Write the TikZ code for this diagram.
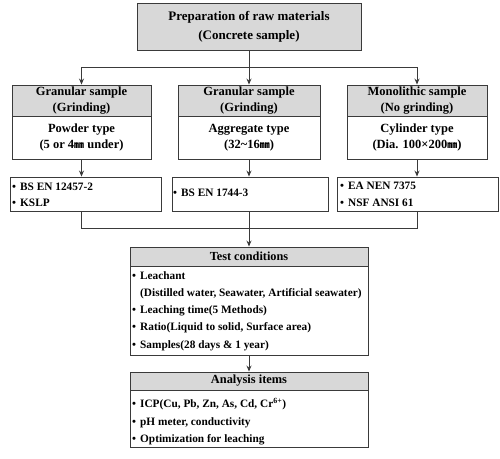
\documentclass[tikz,border=0pt]{standalone}
\usepackage{fontspec}
\setmainfont{Liberation Serif}
\newfontfamily\cjkfont{Noto Sans CJK KR}
\usetikzlibrary{arrows.meta}
\definecolor{edgecol}{HTML}{3A3A3A}
\definecolor{hdrgray}{HTML}{D8D8D8}
\newcommand{\mmu}{{\cjkfont\fontsize{10}{10}\selectfont ㎜}}
\newcommand{\bul}{\makebox[8pt][l]{\textbullet}}
\begin{document}
\begin{tikzpicture}[x=1pt,y=-1pt,
  box/.style={draw=edgecol, line width=0.9pt, rectangle, inner sep=0pt, fill=white},
  hdr/.style={box, fill=hdrgray},
  colfont/.style={font=\fontsize{12.5}{16.5}\selectfont\bfseries, align=center},
  txt/.style={anchor=west, inner sep=0pt, text height=8.5pt, text depth=2.5pt, font=\fontsize{11.3}{14}\selectfont\bfseries},
  ln/.style={draw=edgecol, line width=0.9pt},
  arr/.style={ln, -{Stealth[length=6pt,width=5pt]}}]
\useasboundingbox (0,0) rectangle (500,458);
% top box
\node[hdr, minimum width=224pt, minimum height=47pt, font=\fontsize{13}{19}\selectfont\bfseries, align=center] (prep) at (249,26.5) {Preparation of raw materials\\(Concrete sample)};
% column boxes
\node[hdr, colfont, minimum width=139pt, minimum height=31pt] (h1) at (81.5,100.5) {Granular sample\\(Grinding)};
\node[box, colfont, minimum width=139pt, minimum height=43pt] (w1) at (81.5,137.5) {Powder type\\(5 or 4\mmu{} under)};
\node[hdr, colfont, minimum width=142pt, minimum height=31pt] (h2) at (249,100.5) {Granular sample\\(Grinding)};
\node[box, colfont, minimum width=142pt, minimum height=43pt] (w2) at (249,137.5) {Aggregate type\\(32\textasciitilde16\mmu)};
\node[hdr, colfont, minimum width=140pt, minimum height=31pt] (h3) at (417,100.5) {Monolithic sample\\(No grinding)};
\node[box, colfont, minimum width=140pt, minimum height=43pt] (w3) at (417,137.5) {Cylinder type\\(Dia. 100×200\mmu)};
% standards boxes
\node[box, minimum width=151pt, minimum height=34pt] (b1) at (85.5,194) {};
\node[box, minimum width=156pt, minimum height=34pt] (b2) at (250,194) {};
\node[box, minimum width=161pt, minimum height=34pt] (b3) at (417.5,194) {};
\node[txt] (b1a) at (12,187) {\bul BS EN 12457-2};
\node[txt] (b1b) at (12,203) {\bul KSLP};
\node[txt] (b2a) at (173,193) {\bul BS EN 1744-3};
\node[txt] (b3a) at (340,186) {\bul EA NEN 7375};
\node[txt] (b3b) at (340,203) {\bul NSF ANSI 61};
% test conditions
\node[hdr, minimum width=238pt, minimum height=19pt, font=\fontsize{12.3}{15}\selectfont\bfseries] (th) at (249,256.5) {Test conditions};
\node[box, minimum width=238pt, minimum height=89pt] (tb) at (249,310.5) {};
\node[txt] (t1) at (132,276) {\bul Leachant};
\node[txt] (t2) at (140,293) {(Distilled water, Seawater, Artificial seawater)};
\node[txt] (t3) at (132,310) {\bul Leaching time(5 Methods)};
\node[txt] (t4) at (132,327) {\bul Ratio(Liquid to solid, Surface area)};
\node[txt] (t5) at (132,345) {\bul Samples(28 days \& 1 year)};
% analysis items
\node[hdr, minimum width=238pt, minimum height=18pt, font=\fontsize{12.4}{15}\selectfont\bfseries] (ah) at (249,381) {Analysis items};
\node[box, minimum width=238pt, minimum height=57pt] (ab) at (249,418.5) {};
\node[txt] (a1) at (132,404) {\bul ICP(Cu, Pb, Zn, As, Cd, Cr\textsuperscript{6+})};
\node[txt] (a2) at (132,422) {\bul pH meter, conductivity};
\node[txt] (a3) at (132,439) {\bul Optimization for leaching};
% connectors
\coordinate (jl) at (81.5,67);
\coordinate (jr) at (417,67);
\draw[ln] (jl) -- (jr);
\draw[arr] (prep.south) -- (h2.north);
\draw[arr] (jl) -- (h1.north);
\draw[arr] (jr) -- (h3.north);
\draw[arr] (w1.south) -- (w1.south |- b1.north);
\draw[arr] (w2.south) -- (w2.south |- b2.north);
\draw[arr] (w3.south) -- (w3.south |- b3.north);
\coordinate (kl) at (81.5,228);
\coordinate (kr) at (417,228);
\draw[ln] (b1.south -| kl) -- (kl) -- (kr) -- (b3.south -| kr);
\draw[arr] (b2.south -| th.north) -- (th.north);
\draw[arr] (tb.south) -- (ah.north);
\end{tikzpicture}
\end{document}
